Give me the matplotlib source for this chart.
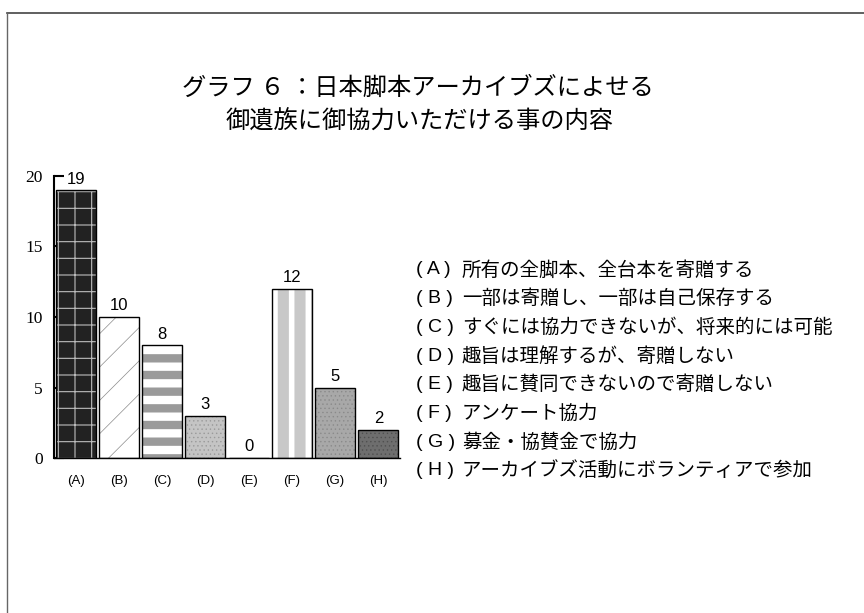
import matplotlib
matplotlib.use("Agg")
import matplotlib.pyplot as plt
from matplotlib.lines import Line2D

plt.rcParams['font.family'] = ['Noto Sans CJK JP', 'DejaVu Sans']

# data
title_lines = ["グラフ ６ ：日本脚本アーカイブズによせる", "御遺族に御協力いただける事の内容"]
letters = ["A", "B", "C", "D", "E", "F", "G", "H"]
counts = [19, 10, 8, 3, 0, 12, 5, 2]
descriptions = [
    "所有の全脚本、全台本を寄贈する",
    "一部は寄贈し、一部は自己保存する",
    "すぐには協力できないが、将来的には可能",
    "趣旨は理解するが、寄贈しない",
    "趣旨に賛同できないので寄贈しない",
    "アンケート協力",
    "募金・協賛金で協力",
    "アーカイブズ活動にボランティアで参加",
]
y_ticks = [0, 5, 10, 15, 20]

# bar styles: (face, hatch, hatch colour, hatch lw)
styles = [
    ("#222222", "+", "#bdbdbd", 0.8),
    ("white", "/", "#8a8a8a", 0.5),
    ("white", "-", "#9a9a9a", 6.0),
    ("#c4c4c4", "....", "#9a9a9a", 0.5),
    ("white", None, "black", 1.0),
    ("#c8c8c8", "|", "white", 4.0),
    ("#a8a8a8", "....", "#8a8a8a", 0.5),
    ("#6e6e6e", "....", "#505050", 0.5),
]

fig = plt.figure(figsize=(8.64, 6.13), dpi=100)
ax = fig.add_axes([54 / 864, 1 - 458 / 613, 346 / 864, 282 / 613])

x = list(range(len(counts)))
for i, (v, st) in enumerate(zip(counts, styles)):
    face, hatch, hc, hlw = st
    b = ax.bar(i, v, width=0.92, color=face, edgecolor=hc, linewidth=0,
               hatch=hatch, zorder=2)
    for p in b:
        p.set_hatch_linewidth(hlw)
    ax.bar(i, v, width=0.92, color="none", edgecolor="black", linewidth=1.0,
           zorder=3)
    ax.text(i, v + 0.25, str(v), ha="center", va="bottom", fontsize=12,
            family=["Liberation Sans", "DejaVu Sans"])

ax.set_xlim(-0.5, 7.5)
ax.set_ylim(0, 20)
ax.set_yticks(y_ticks)
ax.set_yticklabels([str(t) for t in y_ticks], family=["Liberation Serif"],
                   fontsize=12.5)
ax.set_xticks(x)
ax.set_xticklabels([f"({l})" for l in letters], family=["Liberation Sans"],
                   fontsize=9.5)
ax.tick_params(axis="y", direction="in", length=7, width=1.5, pad=8)
ax.tick_params(axis="x", length=0, pad=12)
ax.spines["top"].set_visible(False)
ax.spines["right"].set_visible(False)
ax.spines["left"].set_linewidth(1.5)
ax.spines["bottom"].set_linewidth(1.0)

# title
fig.text(418 / 864, 1 - 88 / 613, title_lines[0], ha="center", va="center",
         fontsize=17.5)
fig.text(420 / 864, 1 - 122 / 613, title_lines[1], ha="center", va="center",
         fontsize=17.5)

# legend text
for k, (lab, desc) in enumerate(zip(letters, descriptions)):
    yy = 1 - (270 + k * 28.7) / 613
    fig.text(416 / 864, yy, f"( {lab} )", ha="left", va="center", fontsize=14,
             family=["Liberation Sans"])
    fig.text(462 / 864, yy, desc, ha="left", va="center", fontsize=14)

# page frame
fig.add_artist(Line2D([7 / 864, 1], [1 - 13 / 613, 1 - 13 / 613],
                      color="#444444", linewidth=1.2))
fig.add_artist(Line2D([7 / 864, 7 / 864], [0, 1 - 13 / 613],
                      color="#666666", linewidth=1.0))

fig.savefig("out.png", dpi=100)
